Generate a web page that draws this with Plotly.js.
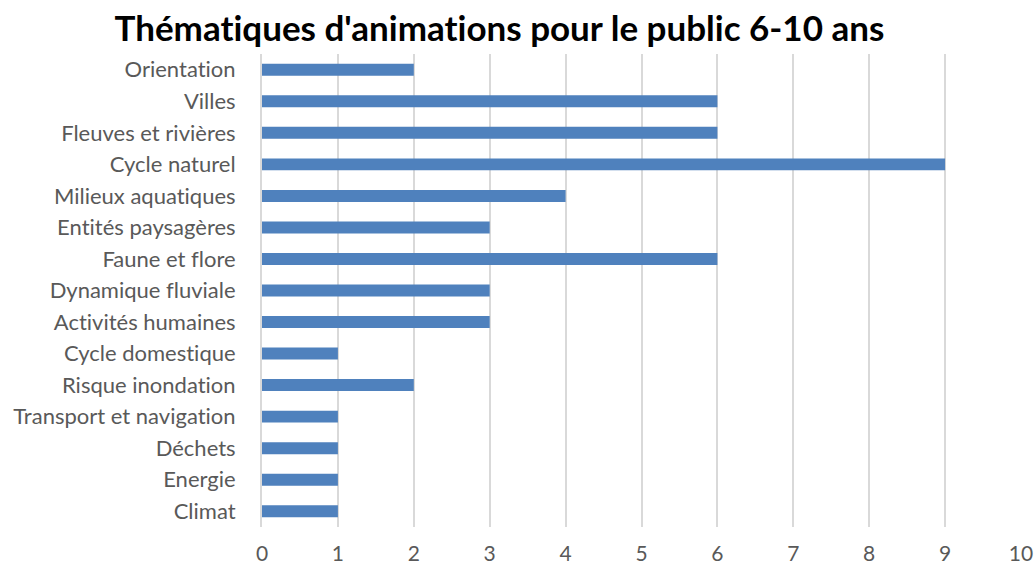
<!DOCTYPE html>
<html><head><meta charset="utf-8">
<script src="https://cdn.plot.ly/plotly-3.0.1.min.js"></script>
<style>body{margin:0;background:#fff}#chart{width:1034px;height:566px}svg text{font-variant-ligatures:none;font-feature-settings:"liga" 0}</style>
</head><body><div id="chart"></div>
<script>
const categories = ["Climat","Energie","Déchets","Transport et navigation","Risque inondation","Cycle domestique","Activités humaines","Dynamique fluviale","Faune et flore","Entités paysagères","Milieux aquatiques","Cycle naturel","Fleuves et rivières","Villes","Orientation"];
const values = [1,1,1,1,2,1,3,3,6,3,4,9,6,6,2];
const xTicks = [0,1,2,3,4,5,6,7,8,9,10];

Plotly.newPlot('chart', [{
  type:'bar', orientation:'h', x: values, y: categories,
  marker:{color:'#4f81bd'}, hoverinfo:'none'
}], {
  width:1034, height:566,
  margin:{l:262, r:13, t:54, b:39},
  paper_bgcolor:'#fff', plot_bgcolor:'#fff',
  bargap:0.62,
  title:{text:"Thématiques d'animations pour le public 6-10 ans", font:{family:'Lato', size:35, color:'#000', weight:'bold'}, x:0.483, xanchor:'center', y:0.95, yanchor:'middle'},
  xaxis:{range:[0,10], tickvals:xTicks, showgrid:true, gridcolor:'#d9d9d9', gridwidth:2, zeroline:false, showline:false, ticks:'', ticklabelstandoff:12, tickfont:{family:'Lato', size:21, color:'#595959'}, fixedrange:true},
  yaxis:{type:'category', categoryorder:'array', categoryarray:categories, showgrid:false, zeroline:false, showline:true, linecolor:'#d9d9d9', linewidth:2, ticks:'', ticklen:0, ticklabelstandoff:20, tickfont:{family:'Lato', size:22, color:'#595959'}, automargin:false, fixedrange:true},
  showlegend:false
}, {displayModeBar:false, staticPlot:true});
</script></body></html>
